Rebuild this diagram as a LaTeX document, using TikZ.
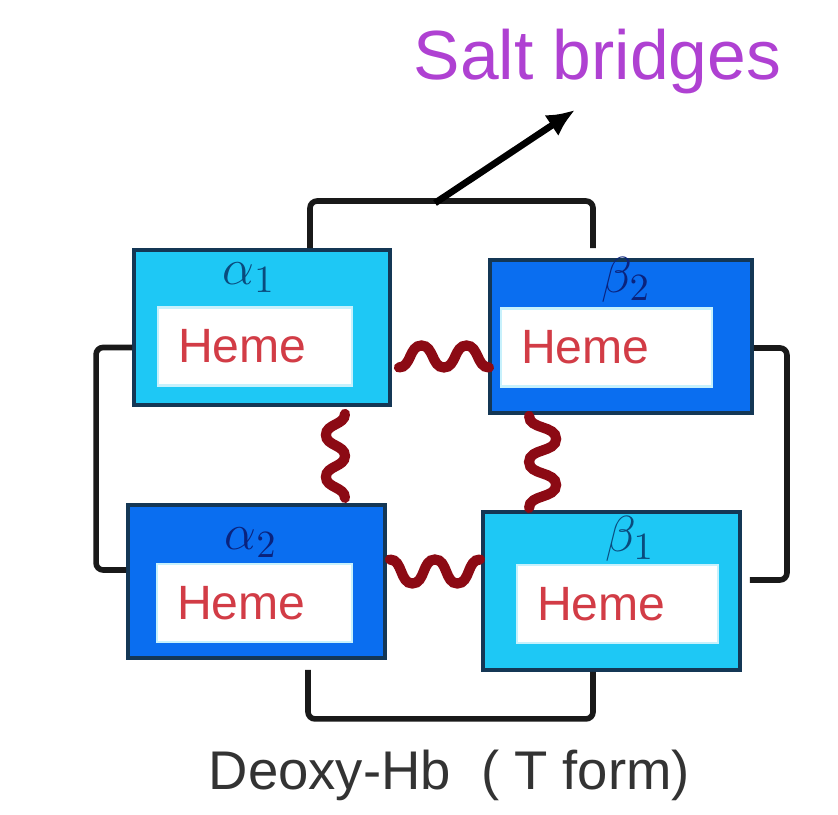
\documentclass[tikz,border=0pt]{standalone}
\usepackage{fontspec}
\setmainfont{Liberation Sans}
\usepackage{xcolor}
\usepackage{tikz}
\usetikzlibrary{arrows.meta}
\definecolor{hellblau}{RGB}{30,200,245}
\definecolor{dunkelblau}{RGB}{10,110,240}
\definecolor{rahmen}{RGB}{20,55,85}
\definecolor{hemrot}{RGB}{210,60,70}
\definecolor{bruecke}{RGB}{140,10,20}
\definecolor{lila}{RGB}{175,65,210}
\definecolor{tinte}{RGB}{10,75,125}
\definecolor{tintedunkel}{RGB}{10,35,125}
\tikzset{
  Kette/.style={draw=rahmen, line width=1.1pt, minimum width=#1, minimum height=1.55cm, inner sep=0pt}, % für Untereinheiten
  Hell/.style={Kette=#1, fill=hellblau},
  Dunkel/.style={Kette=#1, fill=dunkelblau},
  Haem/.style={fill=white, draw=white!75!hellblau, line width=0.6pt, text=hemrot, text width=#1, align=left,
    inner xsep=0.2cm, inner ysep=0pt, minimum height=0.78cm, font=\fontsize{13.7}{16}\selectfont}, % für Häm
  Index/.style={anchor=base, inner sep=0pt, font=\fontsize{15}{18}\selectfont}, % für Kettennamen
  Klammer/.style={line width=1.6pt, draw=black!90, rounded corners=2pt}, % für Salzbrücken
  Bruecke/.style={line width=2.9pt, draw=bruecke, line cap=round}, % für Kontakte
  hwelle/.style={out=0, in=180},
  vwelle/.style={out=-90, in=90}
}

\begin{document}
\begin{tikzpicture}[>=latex]
\useasboundingbox (0,0) rectangle (8.38,8.15);

%Untereinheiten
\node[Hell=2.56cm] (a1) at (2.62,4.875) {};
\node[Dunkel=2.62cm, minimum height=1.53cm] (b2) at (6.21,4.785) {};
\node[Dunkel=2.57cm, minimum height=1.53cm] (a2) at (2.565,2.335) {};
\node[Hell=2.57cm, minimum height=1.58cm] (b1) at (6.115,2.24) {};

%Haem
\node[Haem=1.54cm] (ha1) at (2.55,4.685) {Heme};
\node[Haem=1.71cm] (hb2) at (6.065,4.675) {Heme};
\node[Haem=1.55cm] (ha2) at (2.545,2.12) {Heme};
\node[Haem=1.61cm] (hb1) at (6.175,2.11) {Heme};

%Kettennamen
\node[Index, text=tinte] (la1) at (2.49,5.30) {$\alpha_1$};
\node[Index, text=tintedunkel] (lb2) at (6.26,5.22) {$\beta_2$};
\node[Index, text=tintedunkel] (la2) at (2.51,2.65) {$\alpha_2$};
\node[Index, text=tinte] (lb1) at (6.30,2.63) {$\beta_1$};

%Salzbruecken
\draw[Klammer] ([xshift=0.48cm]a1.north) -- ++(0,0.47) -| ([xshift=-0.28cm, yshift=0.1cm]b2.north);
\draw[Klammer] ([yshift=-0.115cm]b2.east) -- ++(0.33,0) |- ([xshift=0.08cm, yshift=0.11cm]b1.east);
\draw[Klammer] ([yshift=-0.2cm]a1.west) -- ++(-0.36,0) |- ([yshift=0.115cm]a2.west);
\draw[Klammer] ([xshift=0.515cm, yshift=-0.1cm]a2.south) -- ++(0,-0.49) -| ([xshift=-0.185cm]b1.south);

%Kontakte
\draw[Bruecke] ([shift={(0.07,-0.40)}]a1.east) to[hwelle] ++(0.225,0.22) to[hwelle] ++(0.225,-0.22)
  to[hwelle] ++(0.225,0.22) to[hwelle] ++(0.225,-0.22);
\draw[Bruecke] ([shift={(0.03,0.22)}]a2.east) to[hwelle] ++(0.225,-0.24) to[hwelle] ++(0.225,0.24)
  to[hwelle] ++(0.225,-0.24) to[hwelle] ++(0.225,0.24);
\draw[Bruecke] ([shift={(-0.47,-0.07)}]a1.south east) to[vwelle] ++(-0.19,-0.21) to[vwelle] ++(0.19,-0.21)
  to[vwelle] ++(-0.19,-0.21) to[vwelle] ++(0.19,-0.21);
\draw[Bruecke] ([shift={(0.41,-0.01)}]b2.south west) to[vwelle] ++(0.27,-0.23) to[vwelle] ++(-0.27,-0.23)
  to[vwelle] ++(0.27,-0.23) to[vwelle] ++(-0.27,-0.23);

%Beschriftung
\node[anchor=base west, inner sep=0pt, text=lila, font=\fontsize{19.8}{24}\selectfont] (salz) at (4.13,7.35) {Salt bridges};
\node[anchor=base west, inner sep=0pt, text=black!80, font=\fontsize{15.5}{18}\selectfont] (form) at (2.08,0.25) {Deoxy-Hb \ ( T form)};

%Pfeil
\coordinate (fuss) at (4.35,6.12);
\coordinate (spitze) at (5.75,7.05);
\draw[line width=1.9pt, -{Latex[length=0.28cm, width=0.25cm]}] (fuss) -- (spitze);

\end{tikzpicture}
\end{document}
